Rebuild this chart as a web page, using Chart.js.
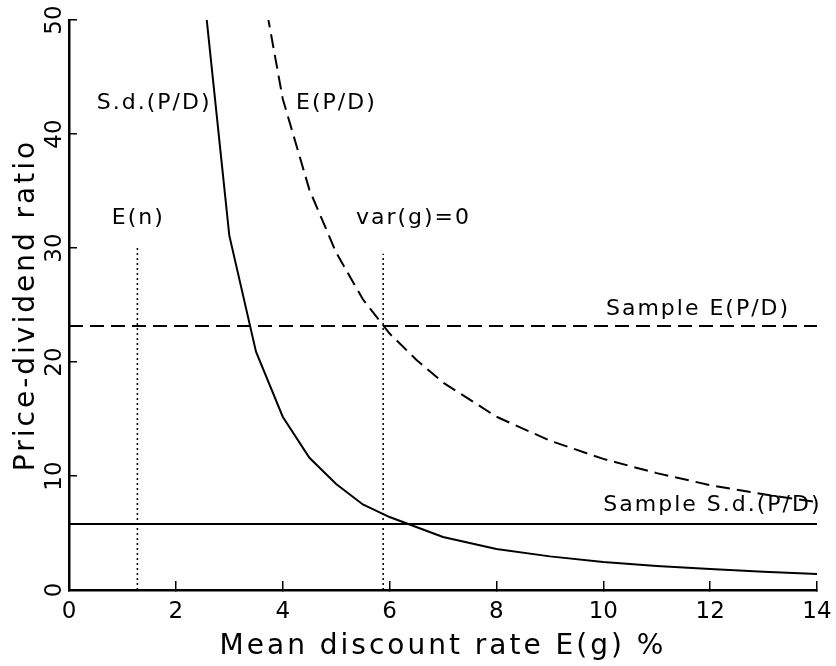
<!DOCTYPE html>
<html>
<head>
<meta charset="utf-8">
<script src="https://cdn.jsdelivr.net/npm/chart.js@4.4.1/dist/chart.umd.min.js"></script>
<style>
  html, body { margin: 0; padding: 0; background: #fff; }
  canvas { display: block; }
</style>
</head>
<body>
<canvas id="chart" width="836" height="666"></canvas>
<script>
// mean discount rate E(g) in percent, and the price-dividend moments at each rate
const sdRates = [2.5, 3, 3.5, 4, 4.5, 5, 5.5, 6, 7, 8, 9, 10, 11, 12, 13, 14]
const sdPD = [53.5, 31.1, 20.9, 15.2, 11.6, 9.3, 7.5, 6.4, 4.65, 3.6, 2.95, 2.45, 2.1, 1.85, 1.6, 1.4]

const meanRates = [3.5, 4, 4.5, 5, 5.5, 6, 6.5, 7, 8, 9, 10, 11, 12, 13, 14]
const meanPD = [56, 43.1, 35.1, 29.6, 25.5, 22.5, 20.2, 18.2, 15.2, 13.1, 11.5, 10.25, 9.2, 8.4, 7.7]

// sample values and reference rates
const sampleMeanPD = 23.15
const sampleSdPD = 5.8
const lineSpan = [0, 14]
const growthRate = 1.28   // E(n)
const noVarRate = 5.88    // var(g)=0
const growthTop = 30
const noVarTop = 29.5

const xTicks = [0, 2, 4, 6, 8, 10, 12, 14]
const yTicks = [0, 10, 20, 30, 40, 50]

const FONT = '"DejaVu Sans", sans-serif'

// text written inside the plot, placed in data units
const notes = [
  { text: 'S.d.(P/D)', x: 0.52, y: 42.7 },
  { text: 'E(P/D)', x: 4.25, y: 42.7 },
  { text: 'E(n)', x: 0.8, y: 32.6 },
  { text: 'var(g)=0', x: 5.37, y: 32.6 },
  { text: 'Sample E(P/D)', x: 10.05, y: 24.65 },
  { text: 'Sample S.d.(P/D)', x: 10.0, y: 7.45 }
]

const pairs = (xs, ys) => xs.map((x, i) => ({ x: x, y: ys[i] }))

const line = (data, dash, width) => ({
  data: data,
  borderColor: '#000',
  borderWidth: width,
  borderDash: dash,
  pointRadius: 0,
  fill: false,
  tension: 0
})

const textPlugin = {
  id: 'notes',
  beforeDraw(chart) {
    chart.ctx.letterSpacing = '3px'
  },
  beforeDatasetsDraw(chart) {
    chart.ctx.letterSpacing = '0px'
  },
  afterDatasetsDraw(chart) {
    const { ctx, scales: { x, y } } = chart
    ctx.save()
    ctx.letterSpacing = '2px'
    ctx.font = '22px ' + FONT
    ctx.fillStyle = '#000'
    ctx.textBaseline = 'middle'
    ctx.textAlign = 'left'
    notes.forEach(n => ctx.fillText(n.text, x.getPixelForValue(n.x), y.getPixelForValue(n.y)))
    ctx.restore()
  }
}

new Chart(document.getElementById('chart'), {
  type: 'line',
  data: {
    datasets: [
      line(pairs(sdRates, sdPD), [], 2),
      line(pairs(meanRates, meanPD), [14, 7], 2),
      line(pairs(lineSpan, [sampleMeanPD, sampleMeanPD]), [14, 7], 2),
      line(pairs(lineSpan, [sampleSdPD, sampleSdPD]), [], 2),
      line(pairs([growthRate, growthRate], [0, growthTop]), [2, 3], 1.5),
      line(pairs([noVarRate, noVarRate], [0, noVarTop]), [2, 3], 1.5)
    ]
  },
  options: {
    responsive: false,
    animation: false,
    devicePixelRatio: 1,
    layout: { padding: { left: 0, right: 19, top: 20, bottom: 0 } },
    plugins: {
      legend: { display: false },
      tooltip: { enabled: false }
    },
    scales: {
      x: {
        type: 'linear',
        min: 0,
        max: 14,
        afterBuildTicks: scale => { scale.ticks = xTicks.map(v => ({ value: v })) },
        afterFit: scale => {
          scale.height = 76
          scale.paddingLeft = 0
          scale.paddingRight = 0
        },
        grid: { drawOnChartArea: false, drawTicks: true, tickLength: -9, color: '#000', lineWidth: 1.5 },
        border: { display: true, color: '#000', width: 2.5 },
        ticks: { z: 1, color: '#000', padding: 17, maxRotation: 0, font: { family: FONT, size: 23 } },
        title: {
          display: true,
          text: 'Mean discount rate E(g) %',
          color: '#000',
          font: { family: FONT, size: 28 },
          padding: { top: 0, bottom: 2 }
        }
      },
      y: {
        min: 0,
        max: 50,
        afterBuildTicks: scale => { scale.ticks = yTicks.map(v => ({ value: v })) },
        afterFit: scale => {
          scale.width = 69
          scale.paddingTop = 0
          scale.paddingBottom = 0
        },
        grid: { drawOnChartArea: false, drawTicks: true, tickLength: -8, color: '#000', lineWidth: 1.5 },
        border: { display: true, color: '#000', width: 2.5 },
        ticks: { z: 1, color: '#000', padding: 7, minRotation: 90, maxRotation: 90, crossAlign: 'center', font: { family: FONT, size: 23 } },
        title: {
          display: true,
          text: 'Price-dividend ratio',
          color: '#000',
          font: { family: FONT, size: 28 },
          padding: { top: 10, bottom: 0 }
        }
      }
    }
  },
  plugins: [textPlugin]
})
</script>
</body>
</html>
